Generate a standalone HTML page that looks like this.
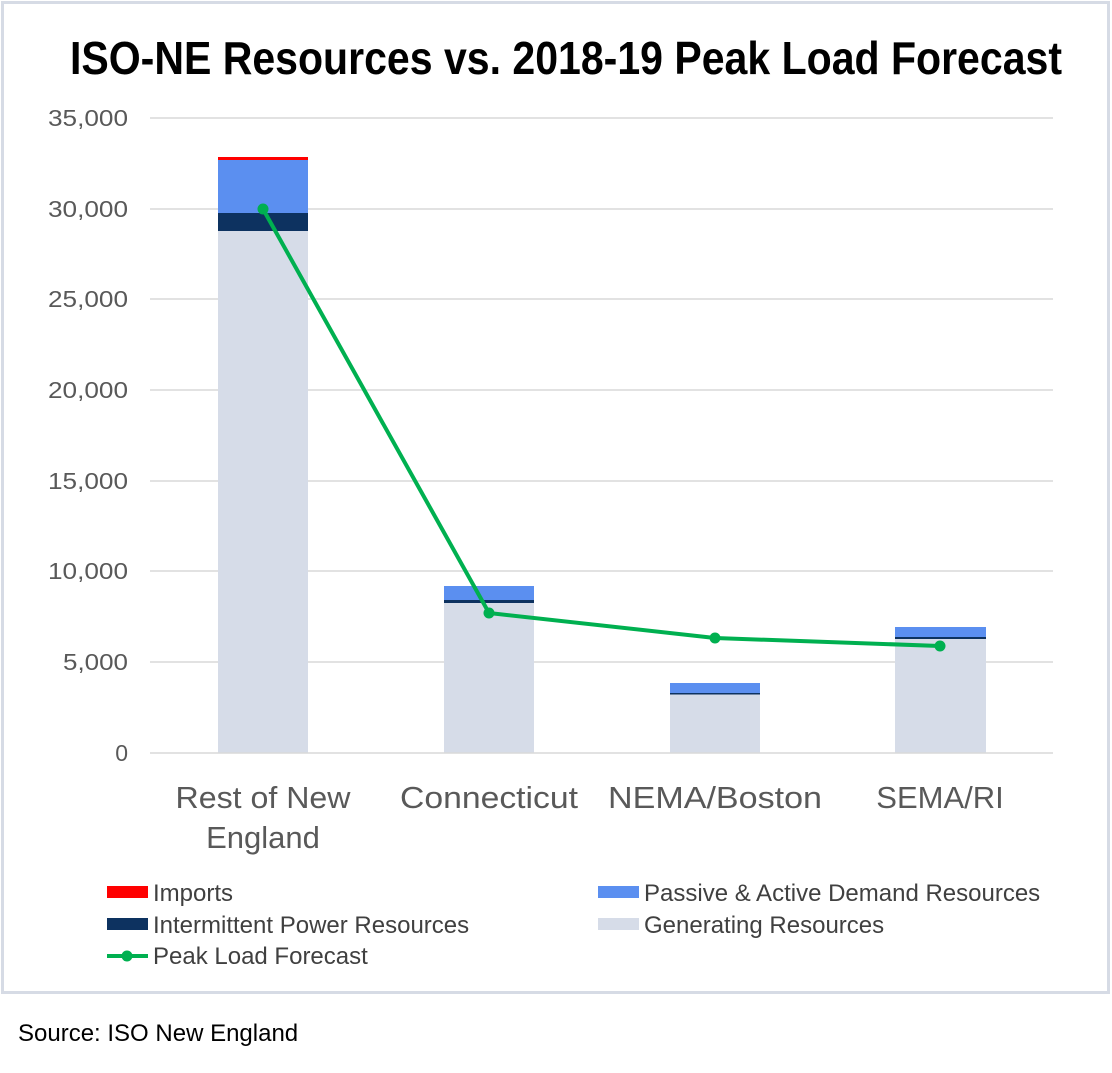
<!DOCTYPE html>
<html><head><meta charset="utf-8"><style>
body{margin:0;background:#fff;}
svg text{font-family:"Liberation Sans",sans-serif;}
</style></head><body>
<svg width="1112" height="1068" viewBox="0 0 1112 1068" xmlns="http://www.w3.org/2000/svg">
<rect x="0" y="0" width="1112" height="1068" fill="#fff"/>
<rect x="2.5" y="2.5" width="1106" height="990" fill="#fff" stroke="#d6dbe5" stroke-width="3"/>
<text x="566" y="74" text-anchor="middle" font-size="46" font-weight="bold" fill="#000" style="font-family:'Liberation Sans Narrow','Liberation Sans',sans-serif" textLength="992" lengthAdjust="spacingAndGlyphs">ISO-NE Resources vs. 2018-19 Peak Load Forecast</text>
<g stroke="#d9d9d9" stroke-width="1.5">
<line x1="150" x2="1053" y1="118" y2="118"/><line x1="150" x2="1053" y1="209" y2="209"/>
<line x1="150" x2="1053" y1="299" y2="299"/><line x1="150" x2="1053" y1="390" y2="390"/>
<line x1="150" x2="1053" y1="481" y2="481"/><line x1="150" x2="1053" y1="571" y2="571"/>
<line x1="150" x2="1053" y1="662" y2="662"/>
</g>
<g font-size="23" fill="#595959" text-anchor="end">
<text x="128" y="126" textLength="80" lengthAdjust="spacingAndGlyphs">35,000</text><text x="128" y="217" textLength="80" lengthAdjust="spacingAndGlyphs">30,000</text><text x="128" y="307" textLength="80" lengthAdjust="spacingAndGlyphs">25,000</text>
<text x="128" y="398" textLength="80" lengthAdjust="spacingAndGlyphs">20,000</text><text x="128" y="489" textLength="80" lengthAdjust="spacingAndGlyphs">15,000</text><text x="128" y="579" textLength="80" lengthAdjust="spacingAndGlyphs">10,000</text>
<text x="128" y="670" textLength="65" lengthAdjust="spacingAndGlyphs">5,000</text><text x="128" y="761">0</text>
</g>
<rect x="218" y="231" width="90" height="522" fill="#d6dce8"/>
<rect x="218" y="213" width="90" height="18" fill="#0d3260"/>
<rect x="218" y="160" width="90" height="53" fill="#5b8ff0"/>
<rect x="218" y="157" width="90" height="3" fill="#ff0000"/>
<rect x="444" y="602" width="90" height="151" fill="#d6dce8"/>
<rect x="444" y="600" width="90" height="3" fill="#0d3260"/>
<rect x="444" y="586" width="90" height="14" fill="#5b8ff0"/>
<rect x="670" y="694" width="90" height="59" fill="#d6dce8"/>
<rect x="670" y="693" width="90" height="1.5" fill="#0d3260"/>
<rect x="670" y="683" width="90" height="10" fill="#5b8ff0"/>
<rect x="895" y="639" width="91" height="114" fill="#d6dce8"/>
<rect x="895" y="637" width="91" height="2" fill="#0d3260"/>
<rect x="895" y="627" width="91" height="10" fill="#5b8ff0"/>
<line x1="150" x2="1053" y1="753" y2="753" stroke="#d9d9d9" stroke-width="1.5"/>
<polyline points="263,209 489,613 715,638 940,646" fill="none" stroke="#00b050" stroke-width="4"/>
<g fill="#00b050"><circle cx="263" cy="209" r="5.5"/><circle cx="489" cy="613" r="5.5"/><circle cx="715" cy="638" r="5.5"/><circle cx="940" cy="646" r="5.5"/></g>
<g font-size="31" fill="#595959" text-anchor="middle">
<text x="263" y="808" textLength="175" lengthAdjust="spacingAndGlyphs">Rest of New</text><text x="263" y="848">England</text>
<text x="489" y="808" textLength="178" lengthAdjust="spacingAndGlyphs">Connecticut</text><text x="715" y="808" textLength="214" lengthAdjust="spacingAndGlyphs">NEMA/Boston</text><text x="940" y="808">SEMA/RI</text>
</g>
<g font-size="24" fill="#404040" style="font-family:'Liberation Sans Narrow','Liberation Sans',sans-serif">
<rect x="107" y="886" width="41" height="12" fill="#ff0000"/><text x="153" y="901">Imports</text>
<rect x="107" y="918" width="41" height="12" fill="#0d3260"/><text x="153" y="933">Intermittent Power Resources</text>
<line x1="107" x2="148" y1="956" y2="956" stroke="#00b050" stroke-width="4"/><circle cx="127" cy="956" r="5.5" fill="#00b050"/><text x="153" y="964">Peak Load Forecast</text>
<rect x="598" y="886" width="41" height="12" fill="#5b8ff0"/><text x="644" y="901">Passive &amp; Active Demand Resources</text>
<rect x="598" y="918" width="41" height="12" fill="#d6dce8"/><text x="644" y="933">Generating Resources</text>
</g>
<text x="18" y="1041" font-size="24" fill="#000" style="font-family:'Liberation Sans Narrow','Liberation Sans',sans-serif">Source: ISO New England</text>
</svg>
</body></html>
